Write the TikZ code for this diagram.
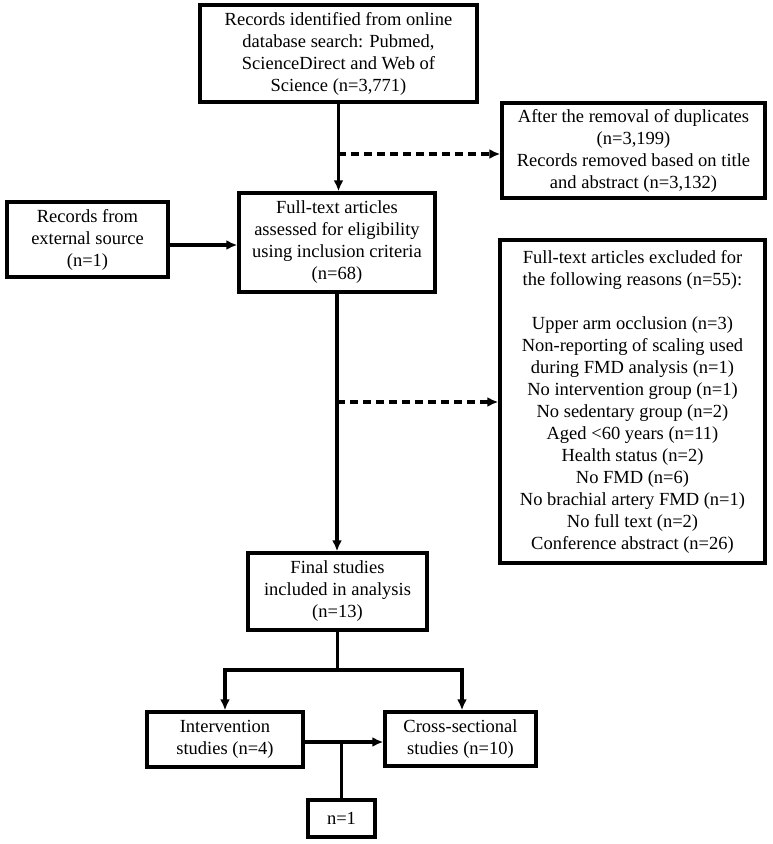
\documentclass[tikz,border=0pt]{standalone}
\usepackage{fontspec}
\setmainfont{Liberation Serif}
\usetikzlibrary{arrows.meta}
\begin{document}
\begin{tikzpicture}[x=1pt,y=-1pt,
  box/.style={draw=black,line width=3.4pt,inner sep=0pt,align=center,
    font=\fontsize{18.5}{22}\selectfont},
  conn/.style={line width=3.4pt,-{Latex[length=11pt,width=10pt]}},
  dconn/.style={line width=3.2pt,dash pattern=on 8pt off 5pt,-{Latex[length=11pt,width=10pt]}},
  plain/.style={line width=3.4pt}]
\useasboundingbox (0,0) rectangle (772,844);
\node[box,minimum width=277pt,minimum height=97pt] (top) at (338.5,53.5)
  {Records identified from online\\database search: Pubmed,\\ScienceDirect and Web of\\Science (n=3,771)};
\node[box,minimum width=263pt,minimum height=95pt] (dup) at (633.5,150.5)
  {After the removal of duplicates\\(n=3,199)\\Records removed based on title\\and abstract (n=3,132)};
\node[box,minimum width=196pt,minimum height=99pt] (full) at (337,242.5)
  {Full-text articles\\assessed for eligibility\\using inclusion criteria\\(n=68)};
\node[box,minimum width=161pt,minimum height=75pt] (ext) at (87.5,239.5)
  {Records from\\external source\\(n=1)};
\node[box,minimum width=265pt,minimum height=323pt] (excl) at (632.5,401.5)
  {Full-text articles excluded for\\the following reasons (n=55):\\[22pt]
   Upper arm occlusion (n=3)\\
   Non-reporting of scaling used\hspace*{20pt}\\
   during FMD analysis (n=1)\hspace*{38pt}\\
   No intervention group (n=1)\\
   No sedentary group (n=2)\\
   Aged <60 years (n=11)\\
   Health status (n=2)\\
   No FMD (n=6)\\
   No brachial artery FMD (n=1)\\
   No full text (n=2)\\
   Conference abstract (n=26)};
\node[box,minimum width=179pt,minimum height=77pt] (final) at (337.5,591.5)
  {Final studies\\included in analysis\\(n=13)};
\node[box,minimum width=156pt,minimum height=55pt] (interv) at (225,739.5)
  {Intervention\\studies (n=4)};
\node[box,minimum width=151pt,minimum height=54pt] (cross) at (460.5,739)
  {Cross-sectional\\studies (n=10)};
\node[box,minimum width=67pt,minimum height=37pt] (none) at (341.5,818.5)
  {n=1};
% connectors
\draw[conn] (top.south) -- (top.south |- full.north);
\coordinate (d1) at (338,154);
\draw[dconn] (d1) -- (d1 -| dup.west);
\coordinate (e1) at (ext.east |- 0,245);
\draw[conn] (e1) -- (e1 -| full.west);
\draw[conn] (full.south) -- (full.south |- final.north);
\coordinate (d2) at (337,402);
\draw[dconn] (d2) -- (d2 -| excl.west);
\coordinate (b0) at (337.5,670);
\coordinate (bl) at (225,670);
\coordinate (br) at (462,670);
\draw[plain] (final.south) -- (b0);
\draw[plain,line cap=rect] (bl) -- (br);
\draw[conn] (bl) -- (bl |- interv.north);
\draw[conn] (br) -- (br |- cross.north);
\coordinate (h1) at (interv.east |- 0,742);
\draw[conn] (h1) -- (h1 -| cross.west);
\coordinate (j1) at (341.5,742);
\draw[plain] (j1) -- (none.north);
\end{tikzpicture}
\end{document}
